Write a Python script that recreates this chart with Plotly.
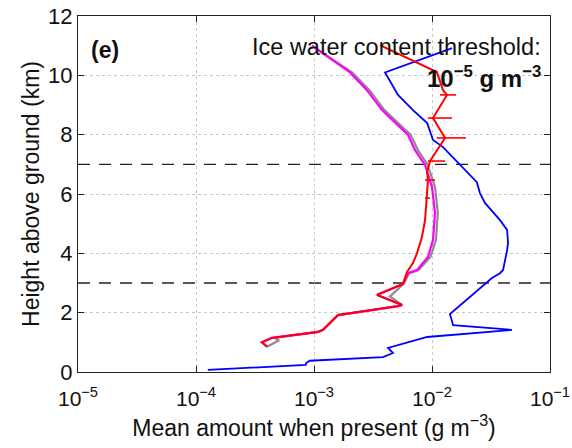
import plotly.graph_objects as go

# ---------------- data ----------------
blue_h = [0.07, 0.24, 0.30, 0.38, 0.50, 0.64, 0.81, 1.18, 1.42, 1.58, 1.95, 2.6,
          3.17, 3.33, 3.44, 4.1, 4.35, 4.79, 5.12, 5.7, 6.03, 6.4, 6.74, 7.25,
          7.58, 7.82, 8.39, 8.83, 9.34, 10.1, 10.92]
blue_v = [1.26e-4, 8.5e-4, 8.6e-4, 9.2e-4, 3.85e-3, 4.67e-3, 4.24e-3, 9.1e-3, 0.0476,
          0.0151, 0.0142, 0.0222, 0.0322, 0.0377, 0.040, 0.0433, 0.0441, 0.0433,
          0.0377, 0.0281, 0.0255, 0.0240, 0.0198, 0.0151, 0.0124, 0.0102, 9.1e-3,
          6.9e-3, 5.15e-3, 4.0e-3, 0.0148]

red_h = [0.85, 1.0, 1.15, 1.35, 1.42, 1.92, 2.22, 2.26, 2.6, 2.97, 3.37, 3.67, 4.0,
         4.55, 5.12, 5.86, 6.47, 6.74, 7.11, 7.89, 8.56, 9.34, 9.5, 10.11, 11.02]
red_v = [4.0e-4, 3.62e-4, 4.4e-4, 1.08e-3, 1.19e-3, 1.6e-3, 5.15e-3, 5.57e-3, 3.42e-3,
         5.68e-3, 6.14e-3, 6.9e-3, 7.46e-3, 8.22e-3, 8.73e-3, 9.08e-3, 9.25e-3,
         9.08e-3, 9.62e-3, 0.0129, 0.0102, 0.0134, 0.0124, 0.0110, 3.62e-3]

# horizontal error bars on the red profile
err_h = [5.86, 6.47, 7.11, 7.89, 8.56, 9.34]
err_lo = [8.73e-3, 8.73e-3, 9.25e-3, 0.0110, 9.25e-3, 0.0117]
err_hi = [9.62e-3, 0.0106, 0.0129, 0.0194, 0.01476, 0.01596]

magenta_h = [0.85, 1.0, 1.15, 1.35, 1.42, 1.92, 2.22, 2.26, 2.6, 2.97, 3.33, 3.44,
             3.88, 4.45, 5.36, 6.24, 6.98, 7.48, 7.99, 8.83, 9.5, 10.1, 11.0]
magenta_v = [4.0e-4, 3.62e-4, 4.4e-4, 1.08e-3, 1.19e-3, 1.6e-3, 5.15e-3, 5.57e-3,
             3.42e-3, 5.68e-3, 6.27e-3, 7.46e-3, 9.25e-3, 0.0102, 0.0106, 0.0100,
             8.73e-3, 7.18e-3, 6.27e-3, 3.77e-3, 2.81e-3, 2.02e-3, 9.6e-4]

gray_h = [0.85, 1.07, 1.15, 1.35, 1.42, 1.92, 2.22, 2.26, 2.55, 2.97, 3.33, 3.44,
          3.88, 4.45, 5.36, 6.24, 6.98, 7.48, 7.99, 8.83, 9.5, 10.1, 11.0]
gray_v = [4.0e-4, 5.05e-4, 4.6e-4, 1.08e-3, 1.19e-3, 1.6e-3, 5.15e-3, 5.57e-3,
          4.4e-3, 5.75e-3, 6.4e-3, 7.7e-3, 9.7e-3, 0.0108, 0.0112, 0.0106,
          9.2e-3, 7.6e-3, 6.6e-3, 3.95e-3, 2.95e-3, 2.1e-3, 9.6e-4]

layer_bounds = [3, 7]

x_tickvals = [1e-5, 1e-4, 1e-3, 1e-2, 1e-1]
x_ticktext = ["10<sup>\u22125</sup>", "10<sup>\u22124</sup>", "10<sup>\u22123</sup>",
              "10<sup>\u22122</sup>", "10<sup>\u22121</sup>"]
y_tickvals = [0, 2, 4, 6, 8, 10, 12]

# ---------------- figure ----------------
FONT = "Liberation Sans, Arial, Helvetica, sans-serif"
fig = go.Figure()

fig.add_trace(go.Scatter(x=gray_v, y=gray_h, mode="lines",
                         line=dict(color="#8c8c8c", width=2.2), showlegend=False))
fig.add_trace(go.Scatter(x=magenta_v, y=magenta_h, mode="lines",
                         line=dict(color="#ff00ff", width=2.2), showlegend=False))
fig.add_trace(go.Scatter(x=blue_v, y=blue_h, mode="lines",
                         line=dict(color="#0000ff", width=1.8), showlegend=False))

ex, ey = [], []
for h, lo, hi in zip(err_h, err_lo, err_hi):
    ex += [lo, hi, None]
    ey += [h, h, None]
fig.add_trace(go.Scatter(x=ex, y=ey, mode="lines",
                         line=dict(color="#ff0000", width=1.6), showlegend=False))
fig.add_trace(go.Scatter(x=red_v, y=red_h, mode="lines",
                         line=dict(color="#ff0000", width=2.0), showlegend=False))

for yb in layer_bounds:
    fig.add_shape(type="line", xref="paper", x0=0, x1=1, yref="y", y0=yb, y1=yb,
                  line=dict(color="#222222", width=1.3, dash="12px,9px"), layer="below")

fig.add_annotation(text="<b>(e)</b>", xref="paper", yref="paper", x=0.024, y=0.905,
                   xanchor="left", yanchor="middle", showarrow=False,
                   font=dict(size=23, color="#111111", family=FONT))
fig.add_annotation(text="Ice water content threshold:", xref="paper", yref="paper",
                   x=0.985, y=0.912, xanchor="right", yanchor="middle", showarrow=False,
                   font=dict(size=23.5, color="#111111", family=FONT))
fig.add_annotation(text="<b>10<sup>\u22125</sup> g m<sup>\u22123</sup></b>", xref="paper",
                   yref="paper", x=0.985, y=0.83, xanchor="right", yanchor="middle",
                   showarrow=False, font=dict(size=24, color="#111111", family=FONT))

axis_common = dict(showline=True, linecolor="#222222", linewidth=1.2, mirror="ticks",
                   ticks="inside", ticklen=6, tickcolor="#222222", automargin=False,
                   showgrid=True, gridcolor="#c8c8c8", griddash="dot", gridwidth=1,
                   zeroline=False)

fig.update_xaxes(type="log", range=[-5, -1], tickvals=x_tickvals, ticktext=x_ticktext,
                 ticklabelstandoff=8, tickfont=dict(size=21, color="#111111", family=FONT),
                 title=dict(text="Mean amount when present (g m<sup>\u22123</sup>)",
                            font=dict(size=23, color="#111111", family=FONT), standoff=10),
                 **axis_common)
fig.update_yaxes(range=[0, 12], tickvals=y_tickvals,
                 tickfont=dict(size=22, color="#111111", family=FONT),
                 title=dict(text="Height above ground (km)",
                            font=dict(size=23, color="#111111", family=FONT), standoff=1),
                 **axis_common)

fig.update_layout(width=572, height=448, margin=dict(l=78, r=22, t=16, b=76),
                  plot_bgcolor="white", paper_bgcolor="white",
                  font=dict(family=FONT, color="#111111"))

# remove the default 8 px page margin so the figure fills the window exactly
fig.write_html("out.html", config={"displayModeBar": False},
               post_script="document.body.style.margin='0px';")
